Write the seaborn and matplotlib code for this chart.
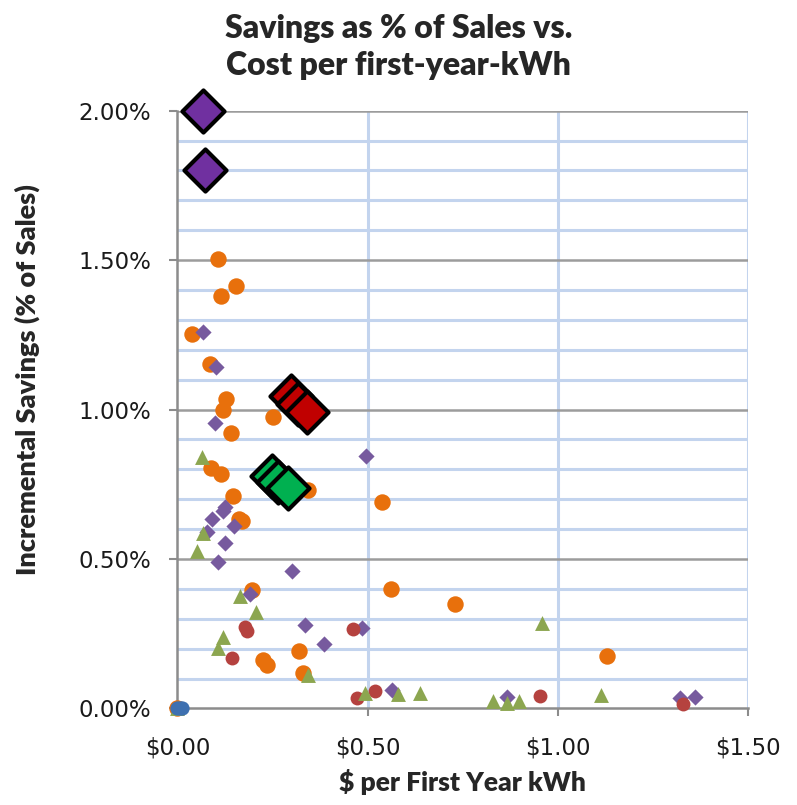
import matplotlib
matplotlib.use("Agg")
import matplotlib.pyplot as plt
import seaborn as sns
import pandas as pd
from matplotlib.ticker import FuncFormatter

# Program cost ($ per first-year kWh) and incremental savings (% of sales)
orange_x = [0.107, 0.154, 0.114, 0.038, 0.086, 0.128, 0.120, 0.141, 0.251, 0.088,
            0.114, 0.146, 0.162, 0.170, 0.343, 0.538, 0.562, 0.730, 1.130, 0.196,
            0.225, 0.236, 0.320, 0.330, 0.000]
orange_y = [1.503, 1.413, 1.380, 1.254, 1.154, 1.037, 0.998, 0.921, 0.975, 0.806,
            0.786, 0.711, 0.633, 0.627, 0.731, 0.691, 0.400, 0.350, 0.176, 0.396,
            0.162, 0.146, 0.192, 0.119, 0.000]

purple_x = [0.067, 0.101, 0.099, 0.496, 0.125, 0.120, 0.091, 0.149, 0.078, 0.125,
            0.107, 0.301, 0.191, 0.336, 0.386, 0.486, 0.564, 0.867, 1.322, 1.362]
purple_y = [1.259, 1.142, 0.955, 0.844, 0.674, 0.661, 0.634, 0.610, 0.590, 0.553,
            0.490, 0.460, 0.383, 0.279, 0.216, 0.269, 0.062, 0.038, 0.035, 0.038]

red_x = [0.178, 0.183, 0.143, 0.462, 0.472, 0.520, 0.954, 1.328]
red_y = [0.273, 0.259, 0.169, 0.266, 0.035, 0.059, 0.042, 0.015]

green_x = [0.064, 0.067, 0.051, 0.164, 0.207, 0.120, 0.107, 0.343, 0.493, 0.580,
           0.638, 0.830, 0.867, 0.899, 0.959, 1.114, 0.000]
green_y = [0.841, 0.587, 0.527, 0.376, 0.323, 0.239, 0.202, 0.112, 0.052, 0.048,
           0.052, 0.025, 0.018, 0.025, 0.286, 0.045, 0.000]

blue_x = [0.000, 0.006, 0.012]
blue_y = [0.000, 0.001, 0.000]

# Highlighted programs
hl_purple_x = [0.067, 0.072]
hl_purple_y = [2.000, 1.800]
hl_red_x = [0.299, 0.317, 0.341]
hl_red_y = [1.045, 1.018, 0.991]
hl_green_x = [0.249, 0.264, 0.291]
hl_green_y = [0.778, 0.758, 0.738]

x_ticks = [0.0, 0.5, 1.0, 1.5]
y_ticks = [0.0, 0.5, 1.0, 1.5, 2.0]

sns.set_style("white")
plt.rcParams["font.family"] = ["DejaVu Sans"]
bold_family = ["Lato", "DejaVu Sans"]

fig = plt.figure(figsize=(7.97, 8.05), dpi=100)
ax = fig.add_axes([0.2227, 0.1199, 0.7158, 0.7426])

# grid: minor horizontal (light blue), vertical (light blue), major horizontal (gray)
grid_blue = "#c3d4ee"
for v in [i / 10 for i in range(1, 20)]:
    if abs(v * 2 - round(v * 2)) > 1e-9:
        ax.axhline(v, color=grid_blue, lw=2.2, zorder=0)
for v in x_ticks[1:]:
    ax.axvline(v, color=grid_blue, lw=2.2, zorder=0)
for v in y_ticks[1:]:
    ax.axhline(v, color="#9c9c9c", lw=1.8, zorder=0.5)

small = [
    (orange_x, orange_y, "#e8700c", "o", 140, 2),
    (purple_x, purple_y, "#775a9e", "D", 68, 3),
    (red_x, red_y, "#b5423f", "o", 100, 4),
    (green_x, green_y, "#8ca650", "^", 115, 5),
    (blue_x, blue_y, "#3e70b0", "o", 105, 6),
]
for xs, ys, col, mk, s, z in small:
    df = pd.DataFrame({"cost": xs, "savings": ys})
    sns.scatterplot(data=df, x="cost", y="savings", ax=ax, color=col, marker=mk,
                    s=s, linewidth=0, zorder=z, clip_on=False, legend=False)

big = [
    (hl_purple_x, hl_purple_y, "#7030a0"),
    (hl_red_x, hl_red_y, "#c00000"),
    (hl_green_x, hl_green_y, "#00b050"),
]
z = 10
for xs, ys, col in big:
    for x, y in zip(xs, ys):
        df = pd.DataFrame({"cost": [x], "savings": [y]})
        sns.scatterplot(data=df, x="cost", y="savings", ax=ax, color=col, marker="D",
                        s=460, edgecolor="black", linewidth=3.0, zorder=z,
                        clip_on=False, legend=False)
        z += 1

ax.set_xlim(0, 1.5)
ax.set_ylim(0, 2.0)
ax.set_xticks(x_ticks)
ax.set_yticks(y_ticks)
ax.xaxis.set_major_formatter(FuncFormatter(lambda v, p: f"${v:.2f}"))
ax.yaxis.set_major_formatter(FuncFormatter(lambda v, p: f"{v:.2f}%"))

for side in ["top", "right"]:
    ax.spines[side].set_visible(False)
for side in ["left", "bottom"]:
    ax.spines[side].set_color("#8c8c8c")
    ax.spines[side].set_linewidth(1.8)
    ax.spines[side].set_zorder(1)

ax.tick_params(axis="both", which="major", direction="out", length=6, width=1.5,
               color="#8c8c8c", labelsize=16.5, labelcolor="#1a1a1a")
ax.tick_params(axis="y", pad=13)
ax.tick_params(axis="x", pad=14)
ax.tick_params(left=True, bottom=True)

ax.set_xlabel("$ per First Year kWh", fontsize=19, fontweight="heavy",
              family=bold_family, labelpad=7)
ax.set_ylabel("Incremental Savings (% of Sales)", fontsize=19.5, fontweight="heavy",
              family=bold_family)
ax.yaxis.set_label_coords(-0.241, 0.55)

fig.text(0.5, 0.983, "Savings as % of Sales vs.\nCost per first-year-kWh",
         ha="center", va="top", fontsize=23, fontweight="heavy",
         family=bold_family, linespacing=1.35)

fig.savefig("out.png", dpi=100)
